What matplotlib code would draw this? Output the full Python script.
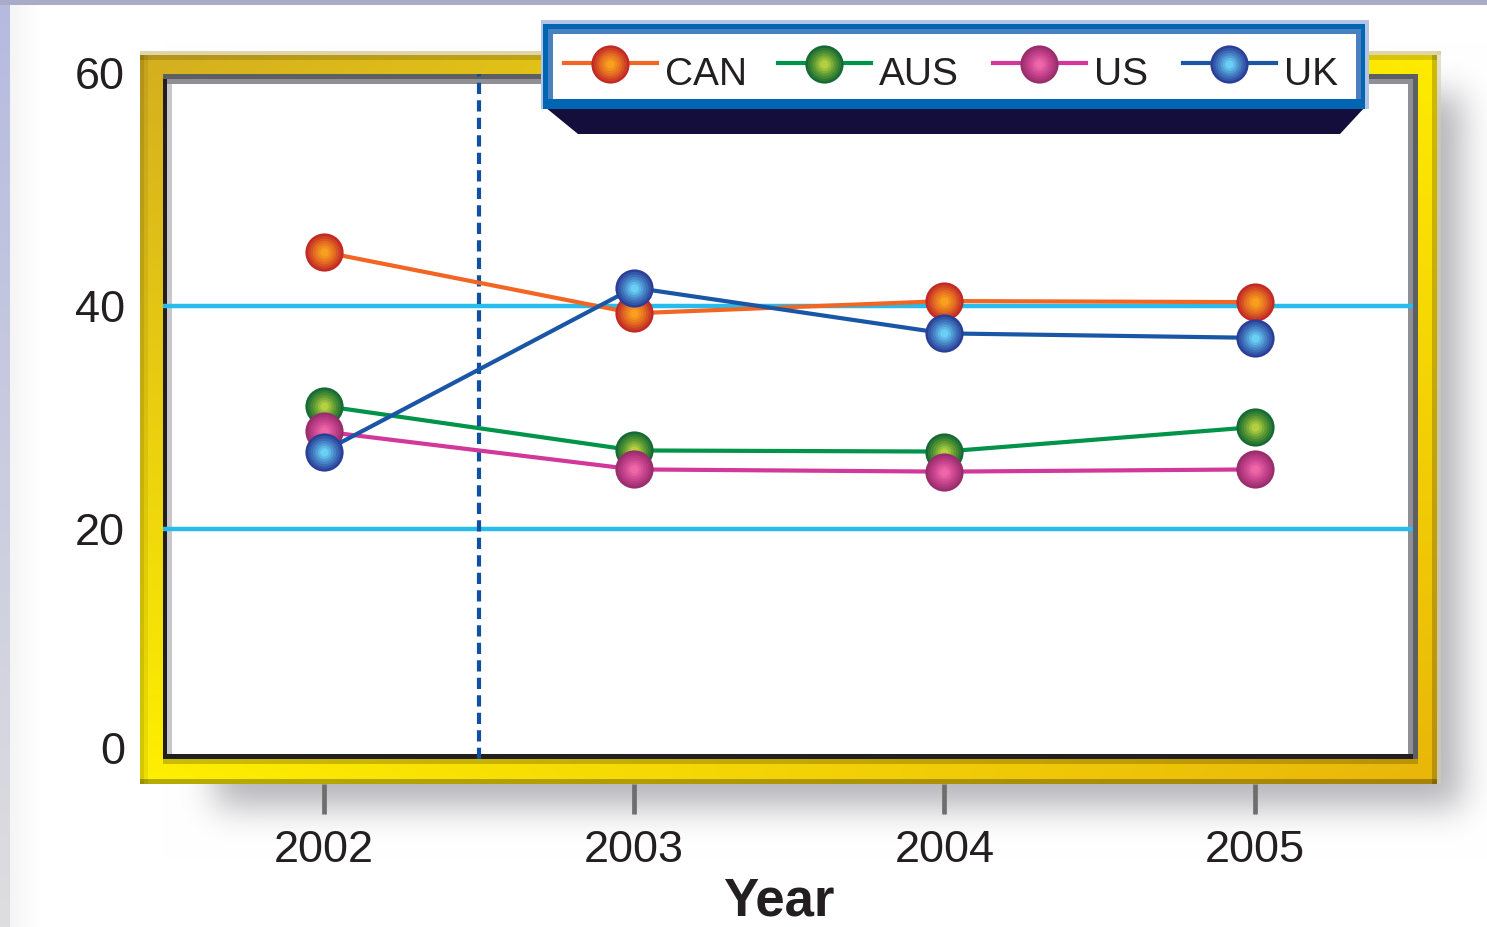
import numpy as np
import matplotlib
matplotlib.use("Agg")
import matplotlib.pyplot as plt
import matplotlib.transforms as mtransforms
from matplotlib.lines import Line2D
from matplotlib.patches import Rectangle, Polygon

# ---------------------------------------------------------------- data
years = ["2002", "2003", "2004", "2005"]
series_names = ["CAN", "AUS", "US", "UK"]
can = [44.8, 39.3, 40.4, 40.3]
aus = [31.0, 27.0, 26.9, 29.1]
us = [28.7, 25.3, 25.1, 25.3]
uk = [26.9, 41.6, 37.5, 37.1]
y_ticks = [0, 20, 40, 60]
grid_values = [20, 40]
divider_at = 0.5          # dashed divider between 2002 and 2003

values = {"CAN": can, "AUS": aus, "US": us, "UK": uk}
palette = {
    "CAN": dict(line="#F26522", rim="#C22A26", mid="#E36A22", core="#F8A01E"),
    "AUS": dict(line="#00934A", rim="#166A34", mid="#5E9A34", core="#B4D040"),
    "US":  dict(line="#D2379A", rim="#9A2E6C", mid="#C8448F", core="#EE66A8"),
    "UK":  dict(line="#1A56A6", rim="#2B3F98", mid="#4684C6", core="#6ACFF4"),
}
TEXT = "#231F20"

W, H, DPI = 1487, 928, 100
plt.rcParams["font.family"] = ["Liberation Sans", "DejaVu Sans"]


def rgb(h):
    return np.array([int(h[i:i + 2], 16) for i in (1, 3, 5)], float) / 255


def mix(a, b, t):
    return (1 - t) * rgb(a) + t * rgb(b)


def blur1d(a, sigma, axis):
    r = int(3 * sigma)
    k = np.exp(-0.5 * (np.arange(-r, r + 1) / sigma) ** 2)
    k /= k.sum()
    return np.apply_along_axis(lambda v: np.convolve(v, k, mode="same"), axis, a)


# ------------------------------------------------------- backdrop image
bg = np.ones((H, W, 3))

# soft drop shadow behind the frame
mask = np.zeros((H, W))
mask[95:808, 215:1462] = 1.0
shadow = blur1d(blur1d(mask, 17, 0), 17, 1)
bg *= 1 - shadow[..., None] * np.array([0.29, 0.29, 0.27])

# page edges
t = np.linspace(0, 1, H)[:, None]
bg[:, :10] = ((1 - t) * rgb("#B6BADF") + t * rgb("#DEDEE0"))[:, None, :]
bg[:6, :] = rgb("#A9ABC9")
ramp = np.linspace(0, 1, 30)[None, :, None]
bg[6:, 10:40] *= 1 - 0.04 * (1 - ramp)

# gold frame with a diagonal gradient
fx0, fx1, fy0, fy1 = 140, 1437, 52, 785
u = np.linspace(0, 1, fx1 - fx0)[None, :, None]
v = np.linspace(0, 1, fy1 - fy0)[:, None, None]
TL, TR, BL, BR = rgb("#D4AE20"), rgb("#FFEC00"), rgb("#FFF000"), rgb("#E8B60A")
bg[fy0:fy1, fx0:fx1] = (1 - v) * ((1 - u) * TL + u * TR) + v * ((1 - u) * BL + u * BR)
bg[fy0:fy1, 140:144] *= 0.84
bg[fy0:fy1, 144:148] *= 0.93
bg[56:61, fx0:fx1] *= 0.85
bg[fy0:fy1, 1432:1437] *= 0.80
bg[780:785, fx0:fx1] *= 0.72
bg[52:56, 140:1441] = rgb("#E0D4AC")
bg[52:785, 1437:1441] = 0.6 * rgb("#D8CCA6") + 0.4 * bg[52:785, 1437:1441]

# recessed plot well
bg[75:80, 163:1418] = rgb("#5E5F62")
bg[80:85, 167:1413] = rgb("#8E9095")
bg[80:760, 163:167] = rgb(TEXT)
bg[85:755, 167:172] = rgb("#C8C8CA")
bg[85:760, 1408:1413] = rgb("#8E9095")
bg[75:760, 1413:1418] = rgb("#5E5F62")
bg[755:760, 163:1413] = rgb(TEXT)
bg[760:765, 163:1418] *= 0.8
bg[85:755, 172:1408] = 1.0

fig = plt.figure(figsize=(W / DPI, H / DPI), dpi=DPI)
fig.figimage(np.clip(bg, 0, 1), xo=0, yo=0, origin="upper", zorder=-10)


def fig_box(x0, y0, x1, y1):
    return [x0 / W, 1 - y1 / H, (x1 - x0) / W, (y1 - y0) / H]


def fpt(x, y):
    return x / W, 1 - y / H


def draw_sphere(add, xs, ys, pal, size, z, steps=7):
    """Stacked discs shading from a dark rim to a bright core."""
    for k in range(steps):
        s = k / (steps - 1)
        c = mix(pal["rim"], pal["mid"], s / 0.5) if s < 0.5 else mix(pal["mid"], pal["core"], (s - 0.5) / 0.5)
        add(xs, ys, ls="none", marker="o", ms=size * (1 - 0.78 * s),
            mfc=c, mec="none", zorder=z + k * 0.01)


# ---------------------------------------------------------------- axes
ax = fig.add_axes(fig_box(163, 83.5, 1413, 752.5))
ax.set_facecolor("none")
for sp in ax.spines.values():
    sp.set_visible(False)

x = np.arange(len(years))

for g in grid_values:
    ax.axhline(g, color="#27BCEB", lw=3.2, zorder=1)

ax.axvline(divider_at, ymin=-7.5 / 669, ymax=1 + 8.5 / 669, clip_on=False,
           color="#1050A0", lw=3.0, ls=(0, (2.7, 1.5)), zorder=2)

for i, name in enumerate(series_names):
    pal = palette[name]
    z = 3 + 2 * i
    ax.plot(x, values[name], color=pal["line"], lw=3.0, zorder=z)
    draw_sphere(ax.plot, x, values[name], pal, 27.5, z + 1)

# tick marks hang below the gold frame
tick_tr = mtransforms.blended_transform_factory(ax.transData, fig.transFigure)
for xi in x:
    ax.plot([xi, xi], [1 - 785 / H, 1 - 815 / H], transform=tick_tr, clip_on=False,
            color="#6E6E6E", lw=3.4, solid_capstyle="butt", zorder=2)

ax.set_xlim(-0.517, 3.509)
ax.set_ylim(0, 60)
ax.set_xticks(x, years)
ax.set_yticks(y_ticks)
ax.tick_params(axis="x", length=0, pad=55.8, labelsize=32.5, labelcolor=TEXT)
ax.tick_params(axis="y", length=0, pad=27.4, labelsize=32.5, labelcolor=TEXT)

# nudge the end labels of the value axis inward
nudge = {60: 10, 0: 4}
for val, tick in zip(y_ticks, ax.yaxis.get_major_ticks()):
    if val in nudge:
        off = mtransforms.ScaledTranslation(0, nudge[val] / DPI, fig.dpi_scale_trans)
        tick.label1.set_transform(tick.label1.get_transform() + off)

ax.set_xlabel("Year", fontsize=38, fontweight="bold", color=TEXT)
ax.xaxis.set_label_coords((778.5 - 163) / 1250, (752.5 - 877) / 669)

# -------------------------------------------------------------- legend
def rect(x0, y0, x1, y1, color, z):
    l, b = fpt(x0, y1)
    fig.add_artist(Rectangle((l, b), (x1 - x0) / W, (y1 - y0) / H,
                             transform=fig.transFigure, facecolor=color,
                             edgecolor="none", zorder=z))


fig.add_artist(Polygon([fpt(545, 108), fpt(1365, 108), fpt(1340, 135), fpt(578, 135)],
                       closed=True, transform=fig.transFigure,
                       facecolor="#140E3C", edgecolor="none", zorder=20))
rect(541, 21, 1369, 110, "#B4C4E4", 20)
rect(543, 25, 1365, 110, "#0066B3", 20.1)
rect(548, 30, 1361, 100, "#4A80C0", 20.2)
rect(553, 35, 1356, 100, "#FFFFFF", 20.3)


def fig_add(xs, ys, **kw):
    pts = [fpt(a, b) for a, b in zip(xs, ys)]
    fig.add_artist(Line2D([p[0] for p in pts], [p[1] for p in pts],
                          transform=fig.transFigure, **kw))


entry_starts = [564, 778, 993, 1183]
for name, xs0 in zip(series_names, entry_starts):
    pal = palette[name]
    fig_add([xs0, xs0 + 93], [64, 64], color=pal["line"], lw=3.0, zorder=21)
    draw_sphere(fig_add, [xs0 + 46], [65], pal, 27.5, 22)
    fig.text(*fpt(xs0 + 101, 85), name, fontsize=28, color=TEXT, va="baseline",
             ha="left", zorder=23)

fig.savefig("out.png", dpi=DPI)
